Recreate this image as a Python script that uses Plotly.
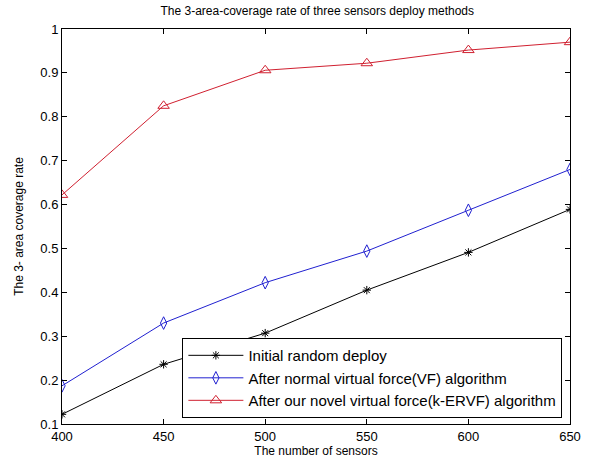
import plotly.graph_objects as go

sensors = [400, 450, 500, 550, 600, 650]
initial_random = [0.122, 0.236, 0.307, 0.405, 0.491, 0.589]
normal_vf = [0.187, 0.330, 0.422, 0.494, 0.587, 0.680]
k_ervf = [0.622, 0.825, 0.906, 0.922, 0.952, 0.970]

x_ticks = [400, 450, 500, 550, 600, 650]
y_ticks = [0.1, 0.2, 0.3, 0.4, 0.5, 0.6, 0.7, 0.8, 0.9, 1]
y_tick_text = ["0.1", "0.2", "0.3", "0.4", "0.5", "0.6", "0.7", "0.8", "0.9", "1"]

font = "Liberation Sans, Arial, sans-serif"

fig = go.Figure()
fig.add_trace(go.Scatter(x=sensors, y=initial_random, mode="lines+markers",
                         name="Initial random deploy",
                         line=dict(color="black", width=1),
                         marker=dict(symbol="asterisk-open", size=7, color="black",
                                     line=dict(color="black", width=1))))
fig.add_trace(go.Scatter(x=sensors, y=normal_vf, mode="lines+markers",
                         name="After normal virtual force(VF) algorithm",
                         line=dict(color="#2020d0", width=1),
                         marker=dict(symbol="diamond-tall-open", size=9, color="#2020d0",
                                     line=dict(color="#2020d0", width=1))))
fig.add_trace(go.Scatter(x=sensors, y=k_ervf, mode="lines+markers",
                         name="After our novel virtual force(k-ERVF) algorithm",
                         line=dict(color="#d02030", width=1),
                         marker=dict(symbol="triangle-up-open", size=10, color="#d02030",
                                     line=dict(color="#d02030", width=1))))

axis_common = dict(showgrid=False, zeroline=False, showline=True, linecolor="black",
                   linewidth=1, mirror="ticks", ticks="inside", ticklen=5,
                   tickcolor="black", tickfont=dict(family=font, size=13, color="black"))

fig.update_layout(
    width=593, height=468,
    margin=dict(l=62, r=18, t=29, b=43),
    paper_bgcolor="white", plot_bgcolor="white",
    title=dict(text="The 3-area-coverage rate of three sensors deploy methods",
               x=0.535, xanchor="center", y=0.985, yanchor="top",
               font=dict(family=font, size=12, color="black")),
    xaxis=dict(range=[400, 650], tickvals=x_ticks, **axis_common,
               title=dict(text="The number of sensors", standoff=4,
                          font=dict(family=font, size=12, color="black"))),
    yaxis=dict(range=[0.1, 1], tickvals=y_ticks, ticktext=y_tick_text, **axis_common,
               title=dict(text="The 3- area coverage rate", standoff=14,
                          font=dict(family=font, size=12, color="black"))),
    legend=dict(x=0.985, y=0.015, xanchor="right", yanchor="bottom",
                bgcolor="white", bordercolor="black", borderwidth=1,
                font=dict(family=font, size=15, color="black"),
                tracegroupgap=0, itemwidth=55),
    showlegend=True,
)

fig.write_html("out.html")
